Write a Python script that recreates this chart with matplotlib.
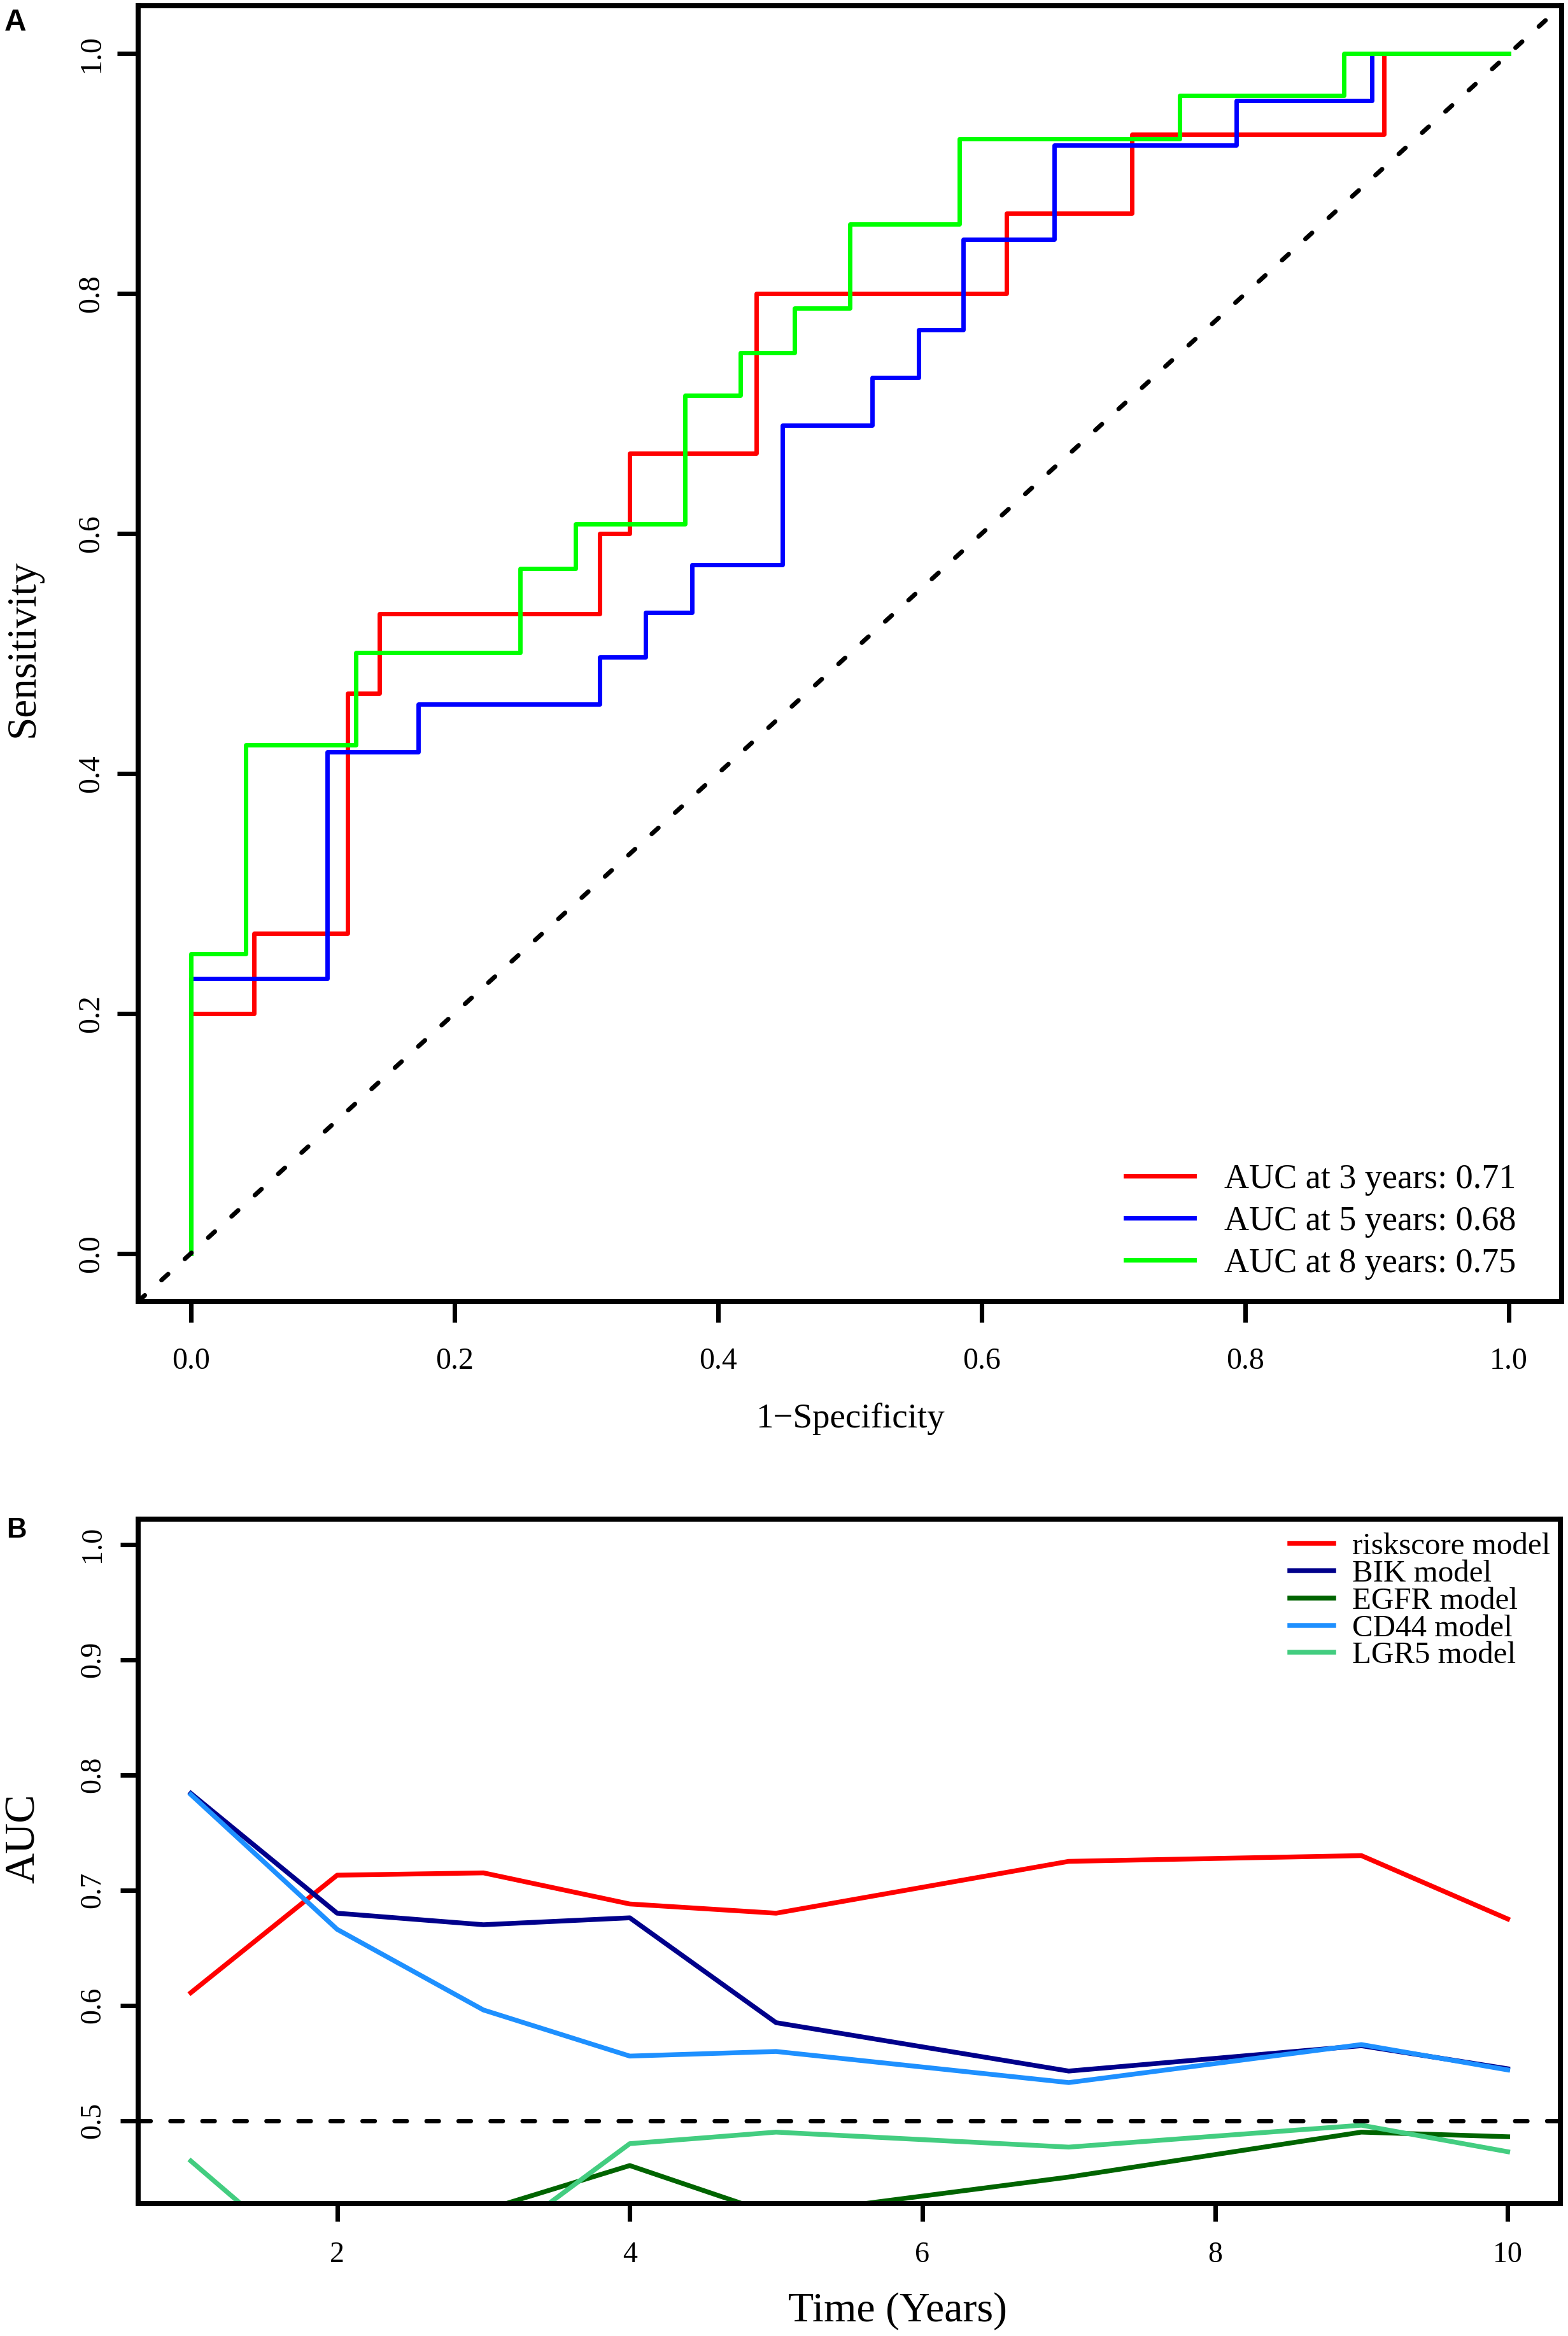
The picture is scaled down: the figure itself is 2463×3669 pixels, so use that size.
import numpy as np
import matplotlib
matplotlib.use('Agg')
import matplotlib.pyplot as plt

plt.rcParams['font.family'] = ['Liberation Serif', 'DejaVu Serif']

# ROC curves (panel A): x where the curve rises, and the level after the rise
fpr_3y = [0, 0, 0.048, 0.119, 0.143, 0.310, 0.333, 0.429, 0.619, 0.714, 0.905, 1.0]
tpr_3y = [0, 0.200, 0.267, 0.467, 0.533, 0.600, 0.667, 0.800, 0.867, 0.933, 1.0, 1.0]

fpr_5y = [0, 0, 0.1035, 0.1726, 0.310, 0.345, 0.380, 0.449, 0.517, 0.552, 0.586, 0.655, 0.793, 0.896, 1.0]
tpr_5y = [0, 0.229, 0.418, 0.458, 0.497, 0.534, 0.574, 0.690, 0.730, 0.770, 0.845, 0.924, 0.961, 1.0, 1.0]

fpr_8y = [0, 0, 0.0417, 0.125, 0.250, 0.2917, 0.375, 0.4167, 0.458, 0.500, 0.583, 0.750, 0.875, 1.0]
tpr_8y = [0, 0.250, 0.424, 0.501, 0.571, 0.608, 0.715, 0.751, 0.788, 0.858, 0.929, 0.965, 1.0, 1.0]

roc_labels = ['AUC at 3 years: 0.71', 'AUC at 5 years: 0.68', 'AUC at 8 years: 0.75']

# time-dependent AUC (panel B)
years = [1, 2, 3, 4, 5, 7, 9, 10]
auc_risk = [0.611, 0.713, 0.715, 0.688, 0.680, 0.725, 0.730, 0.675]
auc_bik = [0.784, 0.680, 0.670, 0.676, 0.585, 0.543, 0.565, 0.545]
auc_egfr = [0.400, 0.390, 0.422, 0.461, 0.418, 0.451, 0.490, 0.486]
auc_cd44 = [0.783, 0.666, 0.596, 0.556, 0.560, 0.533, 0.566, 0.544]
auc_lgr5 = [0.465, 0.356, 0.386, 0.480, 0.490, 0.477, 0.496, 0.473]
model_names = ['riskscore model', 'BIK model', 'EGFR model', 'CD44 model', 'LGR5 model']

W, H = 2463, 3669
fig = plt.figure(figsize=(W / 300, H / 300), dpi=300)

# ---------------- panel A ----------------
axA = fig.add_axes([217 / W, 1 - 2044 / H, (2453 - 217) / W, (2044 - 9) / H])
for fp, tp, col, lab in zip([fpr_3y, fpr_5y, fpr_8y], [tpr_3y, tpr_5y, tpr_8y],
                            ['#FF0000', '#0000FF', '#00FF00'], roc_labels):
    axA.step(fp, tp, where='post', color=col, lw=1.65, label=lab)
axA.axline((0, 0), slope=1, color='black', lw=1.7, linestyle=(0, (2, 5)),
           dash_capstyle='round')
axA.set_xlim(-0.04, 1.04)
axA.set_ylim(-0.04, 1.04)
axA.set_xticks(np.arange(0, 1.01, 0.2))
axA.set_yticks(np.arange(0, 1.01, 0.2))
axA.set_xticklabels([f'{v:.1f}' for v in np.arange(0, 1.01, 0.2)])
axA.set_yticklabels([f'{v:.1f}' for v in np.arange(0, 1.01, 0.2)])
axA.tick_params(length=7.9, width=1.7, labelsize=11.5)
axA.tick_params(axis='x', pad=9.4)
axA.tick_params(axis='y', pad=4.5)
for t in axA.get_yticklabels():
    t.set_rotation(90)
    t.set_va('center')
for s in axA.spines.values():
    s.set_linewidth(1.9)
axA.set_xlabel('1\u2212Specificity', fontsize=13.2)
axA.set_ylabel('Sensitivity', fontsize=15.7)
axA.xaxis.set_label_coords(0.5, -0.0782)
axA.yaxis.set_label_coords(-0.0671, 0.504)
axA.legend(loc='lower left', bbox_to_anchor=(0.6936, 0.0167), frameon=False,
           fontsize=13, handlelength=2.0, handletextpad=0.87, labelspacing=0.29,
           borderpad=0, borderaxespad=0)

# ---------------- panel B ----------------
axB = fig.add_axes([217 / W, 1 - 3461 / H, (2451 - 217) / W, (3461 - 2386) / H])
cols = ['#FF0000', '#00008B', '#006400', '#1E90FF', '#43CD80']
for vals, col, lab in zip([auc_risk, auc_bik, auc_egfr, auc_cd44, auc_lgr5], cols, model_names):
    axB.plot(years, vals, color=col, lw=1.8, label=lab)
axB.axhline(0.5, color='black', lw=1.7, linestyle=(0, (2.7, 4.4)), dash_capstyle='round')
axB.set_xlim(0.64, 10.36)
axB.set_ylim(0.428, 1.022)
axB.set_xticks([2, 4, 6, 8, 10])
axB.set_yticks(np.arange(0.5, 1.01, 0.1))
axB.set_yticklabels([f'{v:.1f}' for v in np.arange(0.5, 1.01, 0.1)])
axB.tick_params(length=6.7, width=1.7, labelsize=11)
axB.tick_params(axis='x', pad=7.5)
axB.tick_params(axis='y', pad=5.3)
for t in axB.get_yticklabels():
    t.set_rotation(90)
    t.set_va('center')
for s in axB.spines.values():
    s.set_linewidth(1.9)
axB.set_xlabel('Time (Years)', fontsize=15.8)
axB.set_ylabel('AUC', fontsize=16)
axB.xaxis.set_label_coords(0.534, -0.130)
axB.yaxis.set_label_coords(-0.0667, 0.533)
axB.legend(loc='upper left', bbox_to_anchor=(0.8098, 0.9805), frameon=False,
           fontsize=11.75, handlelength=1.4, handletextpad=0.6, labelspacing=-0.03,
           borderpad=0, borderaxespad=0)

# panel letters
fig.text(7 / W, 1 - 48 / H, 'A', fontsize=11.5, fontweight='bold', family='Liberation Sans', va='baseline')
fig.text(10 / W, 1 - 2414.6 / H, 'B', fontsize=10.5, fontweight='bold', family='Liberation Sans', va='baseline')

fig.savefig('out.png', dpi=300)
